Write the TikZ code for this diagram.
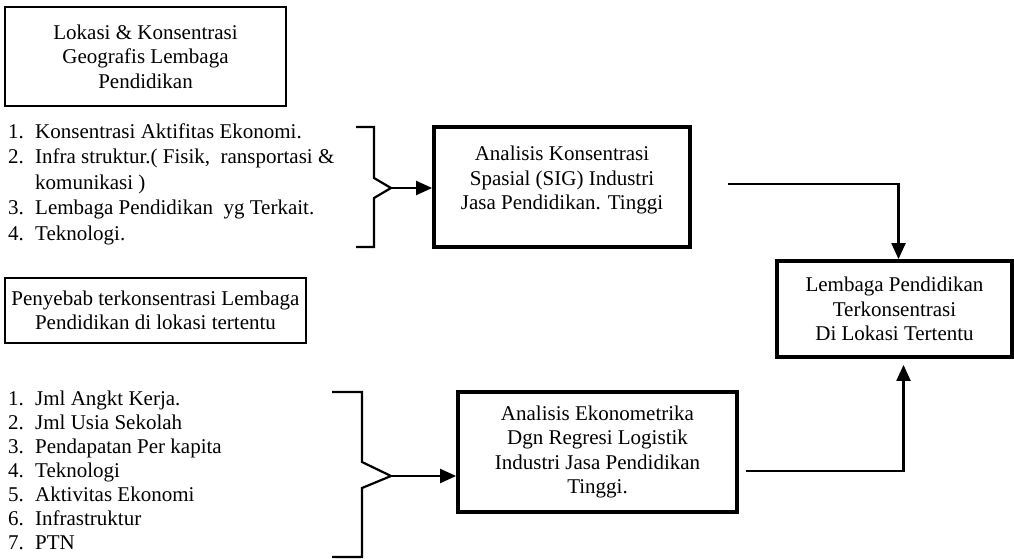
\documentclass[tikz,border=0pt]{standalone}
\usepackage{fontspec}
\setmainfont{Liberation Serif}
\usetikzlibrary{arrows.meta}
\newcommand{\nomor}[1]{\makebox[27pt][l]{#1.}}

\begin{document}
\begin{tikzpicture}[x = 1pt, y = -1pt,
      font = \fontsize{21}{24.5}\selectfont,
      tipis/.style = {draw, line width = 2.2pt, align = center, inner sep = 0pt},
      tebal/.style = {draw, line width = 3.8pt, align = center, inner sep = 0pt},
      garis/.style = {line width = 2.2pt},
      panah/.style = {garis, -{Triangle[length = 16pt, width = 14pt]}},
      daftar/.style = {align = left, anchor = west, inner sep = 0pt}]
      \useasboundingbox (0, 0) rectangle (1014, 559);
      \node [tipis, minimum width = 281pt, minimum height = 99pt] (lokasi) at (145.5, 56.5) {Lokasi \& Konsentrasi\\Geografis Lembaga\\Pendidikan};
      \node [tipis, minimum width = 301pt, minimum height = 65pt] (sebab) at (155.5, 310.5) {Penyebab terkonsentrasi Lembaga\\Pendidikan di lokasi tertentu};
      \node [tebal, minimum width = 256pt, minimum height = 120pt] (konsentrasi) at (562, 187) {Analisis Konsentrasi\\Spasial (SIG) Industri\\Jasa Pendidikan. Tinggi\\[-6pt]\mbox{}};
      \node [tebal, minimum width = 279pt, minimum height = 120pt] (ekonometri) at (597.5, 452) {Analisis Ekonometrika\\Dgn Regresi Logistik\\Industri Jasa Pendidikan\\Tinggi.};
      \node [tebal, minimum width = 235pt, minimum height = 96pt] (hasil) at (894.5, 309) {Lembaga Pendidikan\\Terkonsentrasi\\Di Lokasi Tertentu};
      \node [daftar, font = \fontsize{21}{25.5}\selectfont] (faktor) at (8, 184) {\nomor{1}Konsentrasi Aktifitas Ekonomi.\\\nomor{2}Infra struktur.( Fisik,\ \ ransportasi \&\\\hspace*{27pt}komunikasi )\\\nomor{3}Lembaga Pendidikan\ \ yg Terkait.\\\nomor{4}Teknologi.};
      \node [daftar, font = \fontsize{21}{24}\selectfont] (penyebab) at (8, 470) {\nomor{1}Jml Angkt Kerja.\\\nomor{2}Jml Usia Sekolah\\\nomor{3}Pendapatan Per kapita\\\nomor{4}Teknologi\\\nomor{5}Aktivitas Ekonomi\\\nomor{6}Infrastruktur\\\nomor{7}PTN};
      \coordinate (ujung1) at (391, 188);
      \coordinate (ujung2) at (391, 476);
      \coordinate (keluar1) at (728, 184);
      \coordinate (keluar2) at (746, 471);
      \draw [garis] (356, 127) -- (374, 127) -- (374, 178) -- (ujung1) -- (374, 198) -- (374, 247) -- (356, 247);
      \draw [garis] (332, 392) -- (362, 392) -- (362, 462) -- (ujung2) -- (362, 488) -- (362, 557) -- (332, 557);
      \draw [panah] (ujung1) -- (ujung1 -| konsentrasi.west);
      \draw [panah] (ujung2) -- (ujung2 -| ekonometri.west);
      \draw [panah] (keluar1) -| ([xshift = 4pt]hasil.north);
      \draw [panah, shorten > = 6pt] (keluar2) -| ([xshift = 9pt]hasil.south);
    \end{tikzpicture}
\end{document}
